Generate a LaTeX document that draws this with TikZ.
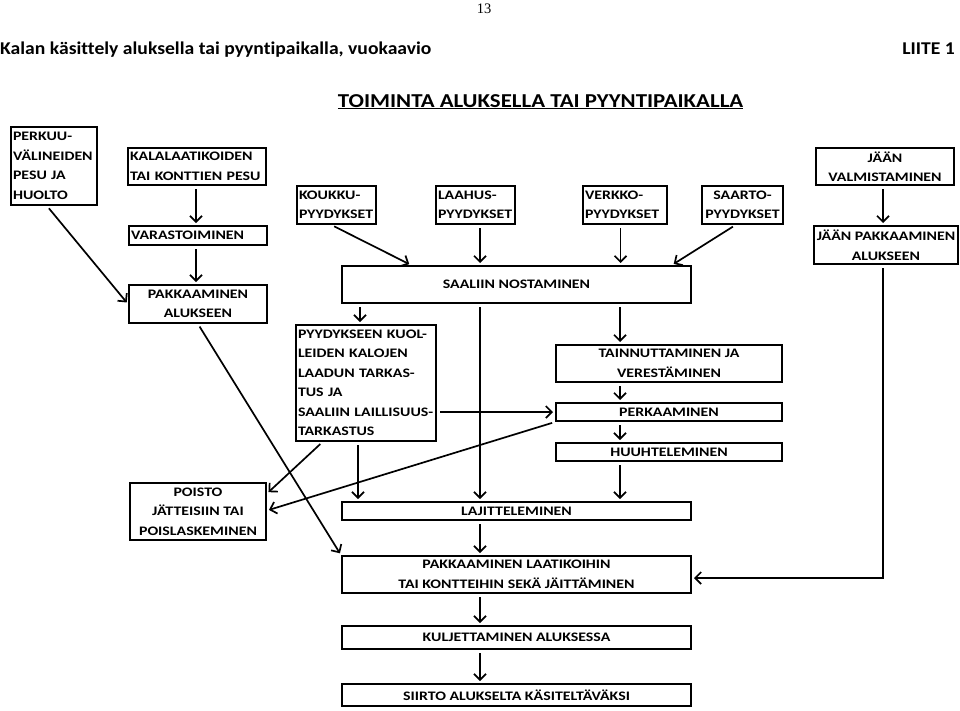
\documentclass[tikz,border=0pt]{standalone}
\usepackage{fontspec}
\setmainfont{Carlito}
\newfontfamily\boxfont[FakeStretch=1.22, Ligatures=NoCommon]{Carlito}
\newfontfamily\headfont[FakeStretch=1.09, Ligatures=NoCommon]{Carlito}
\newfontfamily\titlefont[FakeStretch=1.16, Ligatures=NoCommon]{Carlito}
\newfontfamily\pagefont{Liberation Serif}
\usetikzlibrary{arrows.meta, calc}

\tikzset{
  box/.style={draw, line width=2pt, inner xsep=3pt, inner ysep=1pt,
    font=\boxfont\fontsize{13}{19.5}\selectfont\bfseries, align=center},
  lbox/.style={box, inner xsep=2pt, align=left, text width=#1},
  flow/.style={-{Straight Barb[length=6pt,width=12pt]}, line width=1.7pt,
    shorten >=2pt, shorten <=3pt}
}

\begin{document}
\begin{tikzpicture}[x=1pt, y=-1pt]
  \useasboundingbox (0,0) rectangle (960,710);

  % page head
  \node[font=\pagefont\fontsize{14.5}{15}\selectfont, anchor=base, inner sep=0pt] (sivu) at (484,13) {13};
  \node[font=\headfont\fontsize{18}{20}\selectfont\bfseries, anchor=base west, inner sep=0pt] (otsikko) at (0,54) {Kalan käsittely aluksella tai pyyntipaikalla, vuokaavio};
  \node[font=\headfont\fontsize{18}{20}\selectfont\bfseries, anchor=base east, inner sep=0pt] (liite) at (955,54) {LIITE 1};
  \node[font=\titlefont\fontsize{19.7}{22}\selectfont\bfseries, anchor=base, inner sep=0pt] (toiminta) at (540.5,107) {\underline{TOIMINTA ALUKSELLA TAI PYYNTIPAIKALLA}};

  % left column
  \node[lbox=82, minimum height=78] (perkuu) at (54,166) {PERKUU-\\VÄLINEIDEN\\PESU JA\\HUOLTO};
  \node[lbox=134, minimum height=37] (laatikot) at (197,166.5) {KALALAATIKOIDEN\\TAI KONTTIEN PESU};
  \node[lbox=134, minimum height=19] (varasto) at (198,235.5) {VARASTOIMINEN};
  \node[box, minimum width=138, minimum height=38] (pakkaus) at (198,304) {PAKKAAMINEN\\ALUKSEEN};
  \node[box, minimum width=136, minimum height=57] (poisto) at (198,511.5) {POISTO\\JÄTTEISIIN TAI\\POISLASKEMINEN};

  % gear
  \node[lbox=75, minimum height=38] (koukku) at (336.5,205) {KOUKKU-\\PYYDYKSET};
  \node[lbox=75, minimum height=38] (laahus) at (475.5,205) {LAAHUS-\\PYYDYKSET};
  \node[lbox=80, minimum height=38] (verkko) at (625,205) {VERKKO-\\PYYDYKSET};
  \node[box, minimum width=81, minimum height=38] (saarto) at (742.5,205) {SAARTO-\\PYYDYKSET};

  % ice
  \node[box, minimum width=138, minimum height=37] (jaavalm) at (885,166.5) {JÄÄN\\VALMISTAMINEN};
  \node[box, minimum width=140, minimum height=38] (jaapakk) at (886,245) {JÄÄN PAKKAAMINEN\\ALUKSEEN};

  % main line
  \node[box, minimum width=349, minimum height=37] (nosto) at (516.5,284.5) {SAALIIN NOSTAMINEN};
  \node[lbox=136, minimum height=116] (tarkastus) at (366,383) {PYYDYKSEEN KUOL-\\LEIDEN KALOJEN\\LAADUN TARKAS-\\TUS JA\\SAALIIN LAILLISUUS-\\TARKASTUS};
  \node[box, minimum width=226, minimum height=37] (tainnutus) at (669,363.5) {TAINNUTTAMINEN JA\\VERESTÄMINEN};
  \node[box, minimum width=226, minimum height=18] (perkaus) at (669,412) {PERKAAMINEN};
  \node[box, minimum width=226, minimum height=18] (huuhtelu) at (669,452) {HUUHTELEMINEN};
  \node[box, minimum width=349, minimum height=18] (lajittelu) at (516.5,511) {LAJITTELEMINEN};
  \node[box, minimum width=349, minimum height=37] (pakkaus2) at (516.5,574.5) {PAKKAAMINEN LAATIKOIHIN\\TAI KONTTEIHIN SEKÄ JÄITTÄMINEN};
  \node[box, minimum width=349, minimum height=23] (kuljetus) at (516.5,637.5) {KULJETTAMINEN ALUKSESSA};
  \node[box, minimum width=349, minimum height=22] (siirto) at (516.5,695) {SIIRTO ALUKSELTA KÄSITELTÄVÄKSI};

  \path[flow]
    ([xshift=-7pt]perkuu.south) edge (pakkaus.west)
    ([xshift=-1pt]laatikot.south) edge ([xshift=-1pt]laatikot.south |- varasto.north)
    ([xshift=-2pt]varasto.south) edge ([xshift=-2pt]varasto.south |- pakkaus.north)
    (pakkaus.south) edge (pakkaus2.north west)
    ([xshift=-5pt]koukku.south) edge ([xshift=70pt]nosto.north west)
    ([xshift=4.5pt]laahus.south) edge ([xshift=4.5pt]laahus.south |- nosto.north)
    ([xshift=-4.5pt]verkko.south) edge ([xshift=-4.5pt]verkko.south |- nosto.north)
    ([xshift=-7pt]saarto.south) edge ([xshift=-20pt]nosto.north east)
    ([xshift=-2pt]jaavalm.south) edge ([xshift=-2pt]jaavalm.south |- jaapakk.north)
    ([xshift=-156.5pt]nosto.south) edge ([xshift=-6pt]tarkastus.north)
    ([xshift=-36.5pt]nosto.south) edge ([xshift=-36.5pt]nosto.south |- lajittelu.north)
    ([xshift=103.5pt]nosto.south) edge ([xshift=-49pt]tainnutus.north)
    (tarkastus.east |- perkaus.west) edge (perkaus.west)
    ([xshift=-43.5pt]tarkastus.south) edge ([yshift=18pt]poisto.east)
    ([xshift=-8pt]tarkastus.south) edge ([xshift=-8pt]tarkastus.south |- lajittelu.north)
    (perkaus.south west) edge ([yshift=1pt]poisto.east)
    ([xshift=-49pt]tainnutus.south) edge ([xshift=-49pt]perkaus.north)
    ([xshift=-49pt]perkaus.south) edge ([xshift=-49pt]huuhtelu.north)
    ([xshift=-49pt]huuhtelu.south) edge ([xshift=103.5pt]lajittelu.north)
    ([xshift=-36.5pt]lajittelu.south) edge ([xshift=-36.5pt]pakkaus2.north)
    ([xshift=-36.5pt]pakkaus2.south) edge ([xshift=-36.5pt]kuljetus.north)
    ([xshift=-36.5pt]kuljetus.south) edge ([xshift=-36.5pt]siirto.north);
  \draw[flow] ([xshift=-3pt]jaapakk.south) |- ([yshift=-3.5pt]pakkaus2.east);
\end{tikzpicture}
\end{document}
